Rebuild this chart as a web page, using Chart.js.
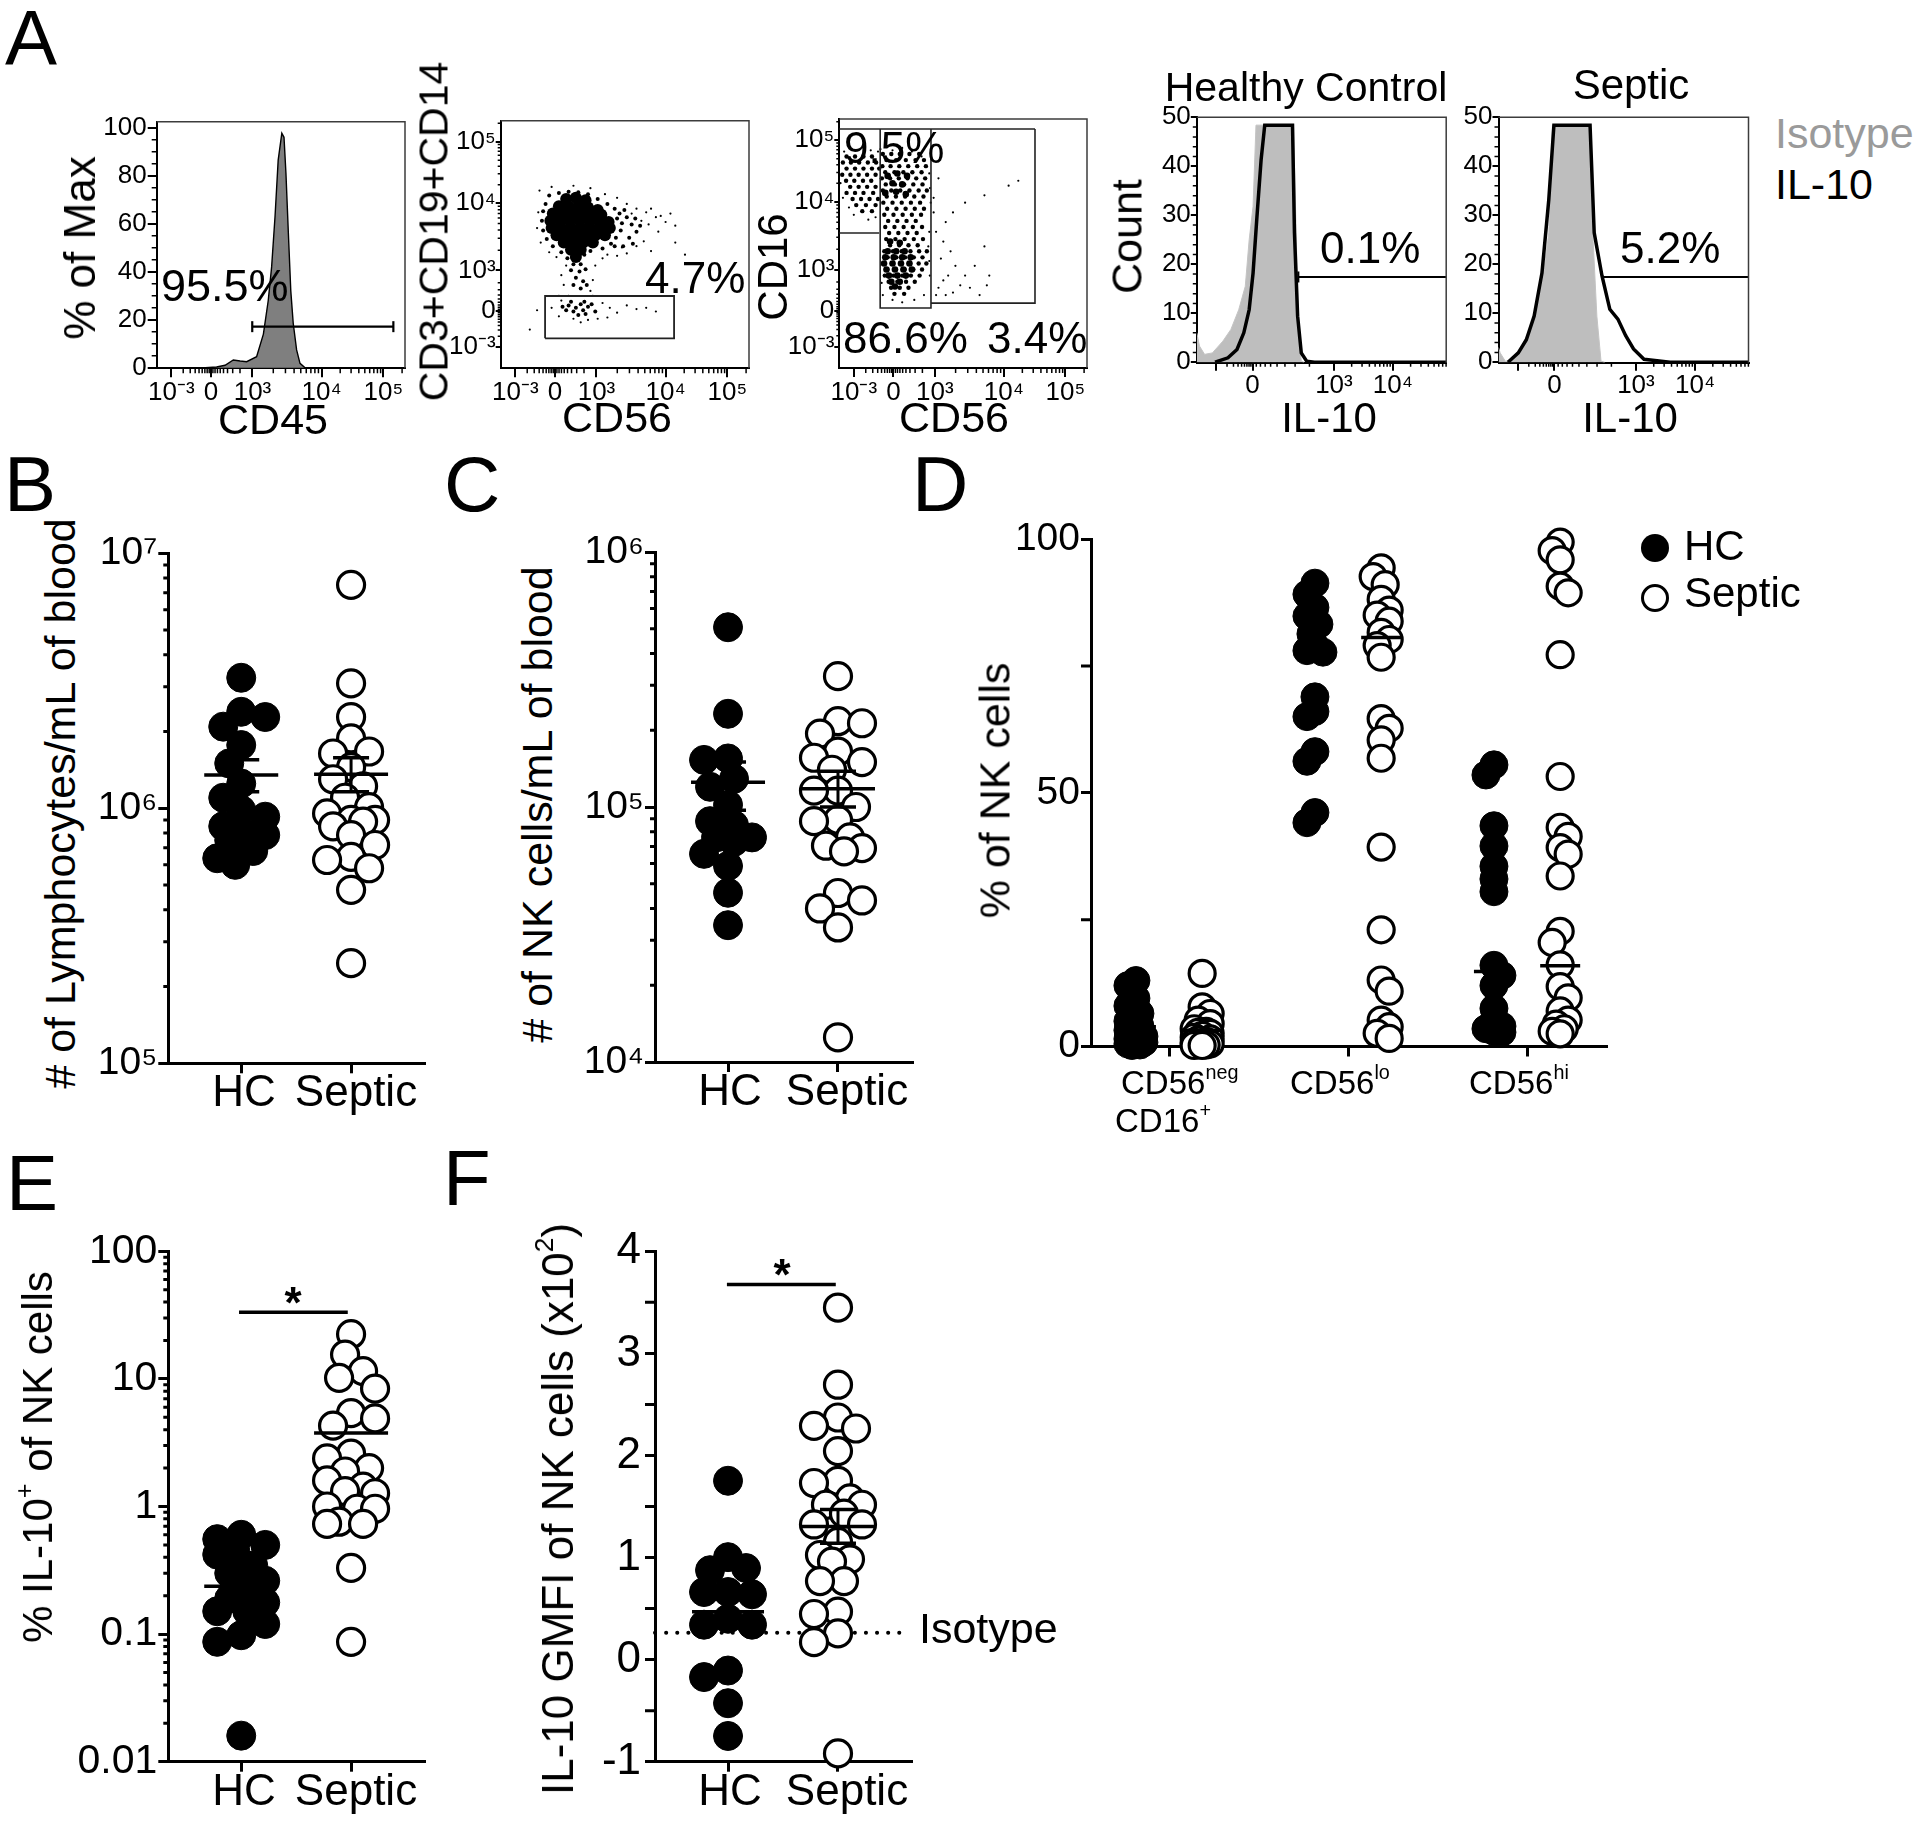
<!DOCTYPE html>
<html>
<head>
<meta charset="utf-8">
<script src="https://cdn.jsdelivr.net/npm/chart.js@4.4.1/dist/chart.umd.min.js"></script>
<style>
  html, body { margin: 0; background: #fff; }
  #page { position: relative; width: 1920px; height: 1824px; overflow: hidden;
          font-family: "Liberation Sans", Arial, Helvetica, sans-serif; color: #000; }
  #page canvas { position: absolute; }
  .t { position: absolute; white-space: nowrap; line-height: 1; }
  .t sup { font-size: 60%; vertical-align: baseline; position: relative; top: -0.75em; }
  .dot { position: absolute; border-radius: 50%; box-sizing: border-box; }
</style>
</head>
<body>
<div id="page"></div>
<script>
const FONT = '"Liberation Sans", Arial, Helvetica, sans-serif';
const page = document.getElementById('page');

// ---------------- panel A : flow data, channel units 0-1024 ----------------
const flowXTicks = [60, 224, 395, 680, 935];
const flowYTicks = [88, 236, 405, 683, 937];
const flowLabels = ['10⁻³', '0', '10³', '10⁴', '10⁵'];
const il10Ticks = [79, 229, 563, 805];
const il10Labels = ['', '0', '10³', '10⁴'];

// CD45 histogram
const cd45Channel = [200, 247, 282, 316, 344, 371, 412, 440, 460, 474, 488, 501, 516, 525, 533, 543, 553, 563, 577, 591, 612, 640];
const cd45Pct     = [0, 0.3, 1, 3.2, 2.8, 2.5, 4.6, 14, 28, 42, 63, 86.5, 97.7, 96, 81, 56, 32, 18.5, 7.4, 1.8, 0, 0];
const cd45Gate = [394, 976];
const cd45GateLevel = 17.1;

// CD56 vs CD3+CD19+CD14
const a2Core = [[270,700],[310,705],[350,695],
  [240,670],[280,670],[320,670],[360,665],[400,655],
  [215,640],[255,640],[295,640],[335,640],[375,640],[415,635],
  [205,610],[245,610],[285,610],[325,610],[365,610],[405,610],[445,605],
  [210,580],[250,580],[290,580],[330,580],[370,580],[410,580],[450,580],
  [230,550],[270,550],[310,550],[350,550],[390,550],[430,550],
  [260,520],[300,520],[340,520],[380,520],[290,490],[330,490],[310,460]];
const a2Mid = [[200,715],[240,725],[280,730],[320,728],[360,720],[400,700],[440,680],[470,660],[490,640],
  [185,680],[175,650],[170,610],[175,570],[190,535],[215,505],[480,620],[500,600],[495,570],[475,540],[455,515],
  [420,495],[520,625],[540,595],[560,565],[530,540],[250,480],[275,455],[345,470],[370,485],[300,430],
  [330,430],[290,405],[325,400],[350,410],[310,375],[340,360],[300,345],[330,330],[355,345],
  [280,260],[310,250],[330,265],[300,235],[340,240],[360,255],[320,220],[350,225],[270,240],[390,235],
  [290,275],[345,275],[375,265],[255,255],[510,655],[555,620],[575,590],[545,515],[505,505],[470,505]];
const a2Sparse = [[160,735],[210,750],[300,755],[370,745],[430,720],[480,705],[520,680],[560,660],[600,645],
  [640,625],[680,605],[720,590],[610,595],[650,565],[590,525],[560,505],[620,485],[520,475],[480,465],
  [420,455],[390,425],[270,425],[250,385],[380,365],[260,345],[370,320],[165,520],[150,580],[155,645],
  [240,300],[380,300],[250,280],[420,270],[450,250],[480,230],[520,260],[560,245],[600,250],[640,235],
  [400,205],[360,200],[300,205],[240,215],[210,250],[440,210],[330,190],[150,240],[120,160],[720,520],[760,470],
  [580,610],[620,660],[660,630],[540,640],[700,640],[500,500],[440,470],[230,460],[200,480],[280,300]];
const a2Gate = [[183,124],[715,124],[715,299],[183,299],[183,124]];

// CD56 vs CD16 : dense spots, speckle rows (y, xs), sparse events
const a3Dense = [[200,480],[235,480],[270,480],[190,455],[225,455],[260,455],[295,455],[185,430],[220,430],
  [255,430],[290,430],[195,405],[230,405],[265,405],[300,405],[205,380],[240,380],[275,380],[215,355],[250,355],
  [230,335],[210,520],[250,515],[200,790],[240,800],[280,790],[220,760],[260,755],[190,720],[235,725],[275,715]];
const a3Rows = [
  [880, [180,215,250,290,330]], [855, [195,235,275,315,350]], [830, [178,212,248,285,322,358]],
  [805, [190,228,265,302,340]], [780, [176,210,246,282,318,355]], [755, [192,230,268,306,344]],
  [730, [180,215,252,290,328,362]], [705, [196,234,272,310,348]], [680, [182,220,258,296,334]],
  [655, [198,236,274,312,350]], [630, [186,224,262,300,338]], [605, [202,240,278,316]],
  [580, [190,228,266,304,342]], [555, [206,244,282,320]], [530, [194,232,270,308,346]],
  [505, [210,248,286,324]], [480, [186,222,258,294,330,362]], [455, [200,236,272,308,344]],
  [430, [184,220,256,292,328,360]], [405, [198,234,270,306,342]], [380, [188,224,260,296,332]],
  [355, [204,240,276,312]], [330, [214,250,286]], [305, [228,268]],
  [870, [30,65,100,135]], [845, [15,48,82,118,152]], [820, [30,65,100,135,165]],
  [795, [12,46,80,115,150]], [770, [28,62,98,132]], [745, [45,80,115,150]],
  [720, [30,65,100,140]], [695, [55,90,125,160]], [670, [70,110,150]], [645, [95,135]]];
const a3Sparse = [[400,560],[430,520],[460,480],[420,450],[480,420],[520,380],[450,380],[500,340],[540,330],
  [580,300],[610,340],[410,330],[440,300],[470,310],[560,420],[600,500],[620,380],[700,750],[740,770],[600,710],
  [520,680],[440,600],[470,640],[390,700],[400,300],[430,360],[390,640],[410,780],[380,860],
  [170,900],[220,895],[260,905],[300,890],[340,870],[372,800],[375,740],[378,680],[372,560],[368,500],[372,440],
  [374,380],[350,300],[310,280],[260,270],[220,280],[180,300],[175,350],
  [20,890],[50,900],[5,760],[15,700],[40,660],[150,620],[120,610],[100,905],[130,895],[160,890],[60,630]];
const a3GateTop = [[0,983],[809,983]];
const a3GateNeg = [[0,555],[165,555]];
const a3GateLo  = [[169,983],[169,247],[379,247],[379,983]];
const a3GateHi  = [[379,267],[809,267],[809,983]];

// IL-10 histograms (channel, count)
const hcIsoCh     = [0, 11, 32, 64, 107, 140, 172, 199, 215, 231, 243, 397, 408, 418, 429, 440];
const hcIsoCount  = [6, 3.3, 1.6, 1.9, 4.3, 6.7, 10.7, 15.5, 25, 31.8, 48.4, 48.4, 26.4, 6, 0.2, 0];
const hcIl10Ch    = [75, 128, 165, 193, 215, 231, 247, 264, 279, 393, 401, 414, 429, 451, 483, 1024];
const hcIl10Count = [0, 0.9, 2.6, 6, 10.7, 18.2, 29.7, 41.3, 48.4, 48.4, 26.4, 9.4, 1.9, 0.2, 0, 0];
const sepIsoCh     = [0, 7, 28, 60, 92, 124, 157, 184, 206, 221, 375, 386, 403, 420, 435];
const sepIsoCount  = [3, 1.9, 0.2, 0.5, 2.9, 6.3, 11.4, 18.2, 26.4, 48.4, 48.4, 26.4, 9.4, 0.2, 0];
const sepIl10Ch    = [39, 81, 114, 146, 178, 206, 227, 375, 392, 424, 456, 489, 521, 553, 596, 703, 1024];
const sepIl10Count = [0, 1.9, 4.6, 9.4, 18.2, 33.2, 48.4, 48.4, 26.4, 17.6, 10.8, 8.8, 5.4, 2.7, 0.6, 0, 0];
const il10GateLevel = 17.4;
const hcGate = [417, 1024];
const sepGate = [424, 1024];

// ---------------- panels B-F ----------------
const groups = ['HC', 'Septic'];

const lymphHC = [3.25e6, 2.39e6, 2.28e6, 2.09e6, 1.77e6, 1.5e6, 1.25e6, 1.1e6, 0.985e6, 0.927e6, 0.85e6, 0.785e6, 0.785e6, 0.75e6, 0.68e6, 0.637e6, 0.6e6];
const lymphSeptic = [7.52e6, 3.09e6, 2.28e6, 1.88e6, 1.67e6, 1.64e6, 1.45e6, 1.3e6, 1.22e6, 1.1e6, 1.01e6, 0.955e6, 0.9e6, 0.9e6, 0.887e6, 0.85e6, 0.785e6, 0.718e6, 0.645e6, 0.627e6, 0.582e6, 0.479e6, 0.247e6];
const lymphMean = [1.35e6, 1.36e6];
const lymphSemLo = [1.16e6, 1.16e6];
const lymphSemHi = [1.55e6, 1.58e6];

const nkHC = [5.07e5, 2.32e5, 1.55e5, 1.53e5, 1.29e5, 1.2e5, 1.02e5, 0.88e5, 0.85e5, 0.76e5, 0.76e5, 0.73e5, 0.655e5, 0.587e5, 0.461e5, 0.344e5];
const nkSeptic = [3.26e5, 2.17e5, 2.13e5, 1.94e5, 1.65e5, 1.56e5, 1.5e5, 1.4e5, 1.16e5, 1.16e5, 1.0e5, 0.89e5, 0.88e5, 0.76e5, 0.705e5, 0.69e5, 0.67e5, 0.46e5, 0.43e5, 0.4e5, 0.337e5, 1.25e4];
const nkMean = [1.25e5, 1.18e5];
const nkSemLo = [0.97e5, 1.0e5];
const nkSemHi = [1.5e5, 1.38e5];

const subsets = ['CD56neg CD16+', 'CD56lo', 'CD56hi'];
const subsetHC = [
  [13, 12, 9.5, 8, 6.5, 5, 4, 3.2, 2.5, 2, 1.5, 1, 0.8, 0.5, 0.3, 0.2],
  [91.3, 89.1, 86.5, 84.8, 83.2, 81.3, 79.0, 78.0, 77.7, 68.9, 66.0, 65.0, 58.1, 56.2, 46.1, 44.1],
  [55.5, 53.5, 43.5, 39.5, 35.5, 33, 30.5, 16, 14, 12, 7.5, 5, 4, 3, 3.5, 2.8]];
const subsetSeptic = [
  [14.4, 7.8, 6.5, 5.2, 4.5, 3.5, 3, 2.8, 2.6, 2.2, 1.8, 1.5, 1.3, 1, 0.8, 0.6, 0.5, 0.4, 0.3, 0.2, 0.2],
  [94.3, 92.6, 91, 88.1, 86, 85, 83.8, 81.6, 80.2, 79.0, 76.7, 64.6, 62.7, 60.4, 56.8, 39.3, 23.0, 13.1, 10.9, 5.2, 3.9, 2.6, 1.6],
  [99.4, 97.7, 95.9, 90.7, 89.4, 77.2, 53.2, 43.2, 41.4, 39.2, 37.9, 33.6, 22.7, 20.5, 16.1, 11.8, 9.6, 7.0, 5.2, 4.4, 3.5, 3.0, 2.5]];
const subsetMeanHC = [3.9, 77.7, 14.8];
const subsetMeanSeptic = [3.2, 80.6, 15.9];

const il10PctHC = [0.6, 0.555, 0.5, 0.455, 0.42, 0.345, 0.3, 0.262, 0.24, 0.19, 0.177, 0.151, 0.151, 0.12, 0.098, 0.087, 0.016];
const il10PctSeptic = [22.4, 15.5, 11.5, 10.2, 8.4, 5.4, 4.9, 4.3, 2.6, 2.38, 2.0, 1.88, 1.6, 1.43, 1.32, 1.27, 1.0, 0.96, 0.96, 0.76, 0.73, 0.73, 0.33, 0.087];
const il10PctMean = [0.237, 3.76];
const il10PctSig = 33.3;

const gmfiHC = [1.752, 1.004, 0.897, 0.876, 0.662, 0.662, 0.64, 0.4, 0.342, 0.342, -0.107, -0.171, -0.427, -0.748];
const gmfiSeptic = [3.449, 2.693, 2.372, 2.29, 2.264, 2.043, 1.752, 1.73, 1.58, 1.517, 1.517, 1.43, 1.324, 1.324, 1.154, 1.025, 0.983, 0.96, 0.769, 0.769, 0.47, 0.447, 0.257, 0.171, -0.919];
const gmfiMean = [0.47, 1.304];
const gmfiSemLo = [0.33, 1.14];
const gmfiSemHi = [0.62, 1.47];
const gmfiIsotype = 0.264;
const gmfiSig = 3.675;

// ---------------- helpers ----------------
const pairs = a => a.map(([x, y]) => ({ x, y }));
const zip = (xs, ys) => xs.map((x, i) => ({ x, y: ys[i] }));
const rows = r => r.flatMap(([y, xs]) => xs.map(x => ({ x, y })));
const logMinors = (e0, e1) => { const m = []; for (let e = e0; e < e1; e++) for (let k = 2; k < 10; k++) m.push(k * Math.pow(10, e)); return m; };
const evenMinors = (a, b, st, major) => { const m = []; for (let v = a; v <= b + 1e-9; v += st) { const r = v / major; if (Math.abs(r - Math.round(r)) > 1e-6) m.push(+v.toFixed(4)); } return m; };
// 2..9 marks of one decade between channels a and b, crowding toward one end
const decade = (a, b, dense) => { const m = []; for (let k = 2; k < 10; k++) { const f = Math.log10(k); m.push(dense === 'b' ? a + (b - a) * f : b - (b - a) * f); } return m; };
const flowXMinors = [...decade(60, 224, 'b'), ...decade(224, 395, 'a'), ...decade(395, 680, 'b'), ...decade(680, 935, 'b'), 1012];
const flowYMinors = [...decade(88, 236, 'b'), ...decade(236, 405, 'a'), ...decade(405, 683, 'b'), ...decade(683, 937, 'b'), 1013];
const il10Minors = [...decade(79, 229, 'b'), ...decade(229, 563, 'a'), ...decade(563, 805, 'b'), ...decade(805, 1047, 'b').filter(v => v < 1024)];

// short minor tick marks + top/right frame for the flow plots
const minorTicks = {
  id: 'minorTicks',
  afterDraw(chart) {
    const list = chart.canvas.minor || [];
    const { ctx, chartArea: a } = chart;
    list.forEach(m => {
      const s = chart.scales[m.axis];
      ctx.save();
      ctx.strokeStyle = '#000';
      ctx.lineWidth = m.width;
      ctx.beginPath();
      m.values.forEach(v => {
        const p = s.getPixelForValue(v);
        if (s.isHorizontal()) { ctx.moveTo(p, a.bottom); ctx.lineTo(p, a.bottom + m.len); }
        else { ctx.moveTo(a.left - m.len, p); ctx.lineTo(a.left, p); }
      });
      ctx.stroke();
      ctx.restore();
    });
    if (chart.canvas.frame) {
      ctx.save();
      ctx.strokeStyle = '#3c3c3c';
      ctx.lineWidth = 1.5;
      ctx.beginPath();
      ctx.moveTo(a.left, a.top); ctx.lineTo(a.right, a.top); ctx.lineTo(a.right, a.bottom);
      ctx.stroke();
      ctx.restore();
    }
  }
};
Chart.register(minorTicks);

function axis(o) {
  return {
    type: o.type || 'linear', min: o.min, max: o.max,
    afterBuildTicks: s => { s.ticks = o.ticks.map(v => ({ value: v })); },
    ticks: {
      autoSkip: false, maxRotation: 0, minRotation: 0, padding: o.pad, color: '#000',
      font: { family: FONT, size: o.font },
      callback: (v, i) => o.labels[i]
    },
    grid: { drawOnChartArea: false, drawTicks: true, tickLength: o.tick, tickWidth: o.lw, lineWidth: o.lw, tickColor: '#000', color: '#000' },
    border: { display: true, color: '#000', width: o.lw }
  };
}

// one canvas per plot, plot area pinned to page pixels
// (keep >= 42px of canvas beyond the plot area on top and right: the long mean-bar
//  markers make Chart.js reserve that much room around the plot area)
function place(box, area, cfg, minor, frame) {
  const cv = document.createElement('canvas');
  cv.width = box.w; cv.height = box.h;
  cv.style.left = box.x + 'px'; cv.style.top = box.y + 'px';
  cv.style.width = box.w + 'px'; cv.style.height = box.h + 'px';
  cv.minor = minor || [];
  cv.frame = !!frame;
  page.appendChild(cv);
  const o = cfg.options;
  o.responsive = false; o.animation = false; o.events = []; o.devicePixelRatio = 1;
  o.layout = { padding: { left: 0, bottom: 0, top: area.t - box.y, right: box.x + box.w - area.r } };
  const zero = s => { s.paddingLeft = 0; s.paddingRight = 0; s.paddingTop = 0; s.paddingBottom = 0; };
  o.scales.x.afterFit = s => { s.height = box.y + box.h - area.b; zero(s); };
  o.scales.y.afterFit = s => { s.width = area.l - box.x; zero(s); };
  o.plugins = { legend: { display: false }, tooltip: { enabled: false } };
  return new Chart(cv, cfg);
}

function txt(html, x, y, size, opt = {}) {
  const d = document.createElement('div');
  d.className = 't';
  d.innerHTML = html;
  d.style.fontSize = size + 'px';
  if (opt.color) d.style.color = opt.color;
  if (opt.bold) d.style.fontWeight = 'bold';
  d.style.left = x + 'px';
  if (opt.rot) {
    d.style.top = (y - size / 2) + 'px';
    d.style.transform = 'translateX(-50%) rotate(-90deg)';
  } else {
    d.style.top = (y - 0.8465 * size) + 'px';
    if (opt.center) d.style.transform = 'translateX(-50%)';
  }
  page.appendChild(d);
}

function dot(cx, cy, r, filled) {
  const d = document.createElement('div');
  d.className = 'dot';
  d.style.left = (cx - r) + 'px'; d.style.top = (cy - r) + 'px';
  d.style.width = 2 * r + 'px'; d.style.height = 2 * r + 'px';
  d.style.background = filled ? '#000' : '#fff';
  d.style.border = filled ? 'none' : '3px solid #000';
  page.appendChild(d);
}

// spread a column of points sideways like a scatter dot plot
function swarm(chart, specs) {
  const xs = chart.scales.x, ys = chart.scales.y;
  specs.forEach(sp => {
    const pts = chart.data.datasets[sp.ds].data;
    const cx = xs.getPixelForValue(sp.at);
    const placed = [];
    const idx = pts.map((p, i) => i).sort((a, b) => pts[b].y - pts[a].y);
    idx.forEach((i, n) => {
      const py = ys.getPixelForValue(pts[i].y);
      const dir = n % 2 ? -1 : 1;
      let best = 0, bestD = -1;
      for (let k = 0; k * sp.step <= sp.max; k++) {
        const offs = k === 0 ? [0] : [dir * k * sp.step, -dir * k * sp.step];
        for (const off of offs) {
          let d = Infinity;
          placed.forEach(q => { d = Math.min(d, Math.hypot(q[0] - cx - off, q[1] - py)); });
          if (d > bestD) { bestD = d; best = off; }
          if (d >= sp.gap) break;
        }
        if (bestD >= sp.gap) break;
      }
      placed.push([cx + best, py]);
      pts[i].x = xs.getValueForPixel(cx + best);
    });
  });
  chart.update('none');
}

const line = (data, w, extra = {}) => Object.assign({ data, showLine: true, borderColor: '#000', borderWidth: w, pointRadius: 0, clip: false, order: 1 }, extra);
const cloud = (data, r) => ({ data, pointRadius: r, pointBackgroundColor: '#000', pointBorderWidth: 0, order: 2 });
const column = (vals, x, filled, r) => ({
  data: vals.map(v => ({ x, y: v })), pointRadius: filled ? r : r - 1,
  pointBackgroundColor: filled ? '#000' : '#fff', pointBorderColor: '#000',
  pointBorderWidth: filled ? 1 : 3.2, clip: false, order: 2
});
const bars = (vals, xs, r, w) => ({
  data: vals.map((v, i) => ({ x: xs[i], y: v })), pointStyle: 'line', pointRadius: r,
  pointBorderWidth: w, pointBorderColor: '#000', clip: false, order: 0
});
const errs = (lo, hi) => lo.map((v, i) => line([{ x: i + 1, y: v }, { x: i + 1, y: hi[i] }], 3, { order: 0 }));

const flowX = () => axis({ min: 0, max: 1024, ticks: flowXTicks, labels: flowLabels, font: 26, tick: 9, lw: 2, pad: 0 });
const flowY = () => axis({ min: 0, max: 1024, ticks: flowYTicks, labels: flowLabels, font: 26, tick: 5, lw: 2, pad: 0 });
const flowMinors = [{ axis: 'x', values: flowXMinors, len: 5, width: 1.5 }, { axis: 'y', values: flowYMinors, len: 3, width: 1.5 }];

// ---------------- A1 : CD45 ----------------
place({ x: 95, y: 100, w: 330, h: 310 }, { l: 156.7, t: 121.7, r: 405, b: 368.3 }, {
  type: 'scatter',
  data: { datasets: [
    line(zip(cd45Channel, cd45Pct), 1.4, { fill: 'origin', backgroundColor: '#7f7f7f', order: 2, clip: true }),
    line(cd45Gate.map(x => ({ x, y: cd45GateLevel })), 2.2, { pointStyle: 'line', pointRotation: 90, pointRadius: 5.5, pointBorderWidth: 2.2, pointBorderColor: '#000' })
  ] },
  options: { scales: {
    x: flowX(),
    y: axis({ min: -0.25, max: 102.5, ticks: [0, 20, 40, 60, 80, 100], labels: ['0', '20', '40', '60', '80', '100'], font: 26, tick: 9, lw: 2, pad: 1 })
  } }
}, [{ axis: 'x', values: flowXMinors, len: 5, width: 1.5 }, { axis: 'y', values: evenMinors(0, 100, 5, 20), len: 5, width: 1.5 }], true);

// ---------------- A2 : CD56 vs lineage ----------------
place({ x: 440, y: 100, w: 325, h: 310 }, { l: 500.7, t: 120.7, r: 749, b: 368.3 }, {
  type: 'scatter',
  data: { datasets: [
    cloud(pairs(a2Core), 6), cloud(pairs(a2Mid), 2), cloud(pairs(a2Sparse), 1.1),
    line(pairs(a2Gate), 1.8, { borderColor: '#222' })
  ] },
  options: { scales: { x: flowX(), y: flowY() } }
}, flowMinors, true);

// ---------------- A3 : CD56 vs CD16 ----------------
place({ x: 780, y: 100, w: 325, h: 310 }, { l: 839.3, t: 119, r: 1087, b: 368 }, {
  type: 'scatter',
  data: { datasets: [
    cloud(pairs(a3Dense), 3.3), cloud(rows(a3Rows), 2.2), cloud(pairs(a3Sparse), 1.1),
    line(pairs(a3GateTop), 1.6, { borderColor: '#222' }),
    line(pairs(a3GateNeg), 1.6, { borderColor: '#222' }),
    line(pairs(a3GateLo), 1.6, { borderColor: '#222' }),
    line(pairs(a3GateHi), 1.6, { borderColor: '#222' })
  ] },
  options: { scales: { x: flowX(), y: flowY() } }
}, flowMinors, true);

// ---------------- A4 / A5 : IL-10 histograms ----------------
function il10Hist(box, area, isoCh, isoCount, ilCh, ilCount, gate, cap) {
  place(box, area, {
    type: 'scatter',
    data: { datasets: [
      line(zip(isoCh, isoCount), 1, { fill: 'origin', backgroundColor: '#bebebe', borderColor: '#c4c4c4', order: 3, clip: true }),
      line(zip(ilCh, ilCount), 3.5, { order: 2, clip: true }),
      line(gate.map(x => ({ x, y: il10GateLevel })), 2, { pointStyle: 'line', pointRotation: 90, pointBorderWidth: 2, pointBorderColor: '#000',
        pointRadius: c => (cap && c.dataIndex === 0 ? 5.5 : 0) })
    ] },
    options: { scales: {
      x: axis({ min: 0, max: 1024, ticks: il10Ticks, labels: il10Labels, font: 26, tick: 8, lw: 2, pad: 0 }),
      y: axis({ min: -0.1, max: 50, ticks: [0, 10, 20, 30, 40, 50], labels: ['0', '10', '20', '30', '40', '50'], font: 26, tick: 6, lw: 2, pad: 0 })
    } }
  }, [{ axis: 'x', values: il10Minors, len: 4, width: 1.5 }, { axis: 'y', values: evenMinors(0, 50, 2, 10), len: 4, width: 1.5 }], true);
}
il10Hist({ x: 1150, y: 100, w: 310, h: 310 }, { l: 1196.8, t: 117.3, r: 1446.2, b: 362.7 }, hcIsoCh, hcIsoCount, hcIl10Ch, hcIl10Count, hcGate, true);
il10Hist({ x: 1455, y: 100, w: 310, h: 310 }, { l: 1498.5, t: 117.3, r: 1748.5, b: 362.7 }, sepIsoCh, sepIsoCount, sepIl10Ch, sepIl10Count, sepGate, false);

// ---------------- B-F dot plots (group names are set as page text below) ----------------
const groupX = max => axis({ min: 0.336, max, ticks: [1, 2], labels: ['', ''], font: 20, tick: 10, lw: 3, pad: 0 });
const swarmSpec = [{ ds: 0, at: 1, gap: 21, step: 6, max: 27 }, { ds: 1, at: 2, gap: 21, step: 6, max: 27 }];

// B
let ch = place({ x: 85, y: 506, w: 384, h: 619 }, { l: 168.3, t: 553.3, r: 424, b: 1063.3 }, {
  type: 'scatter',
  data: { datasets: [
    column(lymphHC, 1, true, 14.5), column(lymphSeptic, 2, false, 14.5),
    bars(lymphMean, [1, 2], 37, 3.5), bars(lymphSemLo, [1, 2], 18, 3.5), bars(lymphSemHi, [1, 2], 18, 3.5),
    ...errs(lymphSemLo, lymphSemHi)
  ] },
  options: { scales: {
    x: groupX(2.664),
    y: axis({ type: 'logarithmic', min: 1e5, max: 1e7, ticks: [1e5, 1e6, 1e7], labels: ['10⁵', '10⁶', '10⁷'], font: 39, tick: 10, lw: 3, pad: 1 })
  } }
}, [{ axis: 'y', values: logMinors(5, 7), len: 5, width: 3 }]);
swarm(ch, swarmSpec);

// C
ch = place({ x: 570, y: 505, w: 387, h: 620 }, { l: 655, t: 552, r: 912, b: 1062 }, {
  type: 'scatter',
  data: { datasets: [
    column(nkHC, 1, true, 14.5), column(nkSeptic, 2, false, 14.5),
    bars(nkMean, [1, 2], 37, 3.5), bars(nkSemLo, [1, 2], 18, 3.5), bars(nkSemHi, [1, 2], 18, 3.5),
    ...errs(nkSemLo, nkSemHi)
  ] },
  options: { scales: {
    x: groupX(2.673),
    y: axis({ type: 'logarithmic', min: 1e4, max: 1e6, ticks: [1e4, 1e5, 1e6], labels: ['10⁴', '10⁵', '10⁶'], font: 39, tick: 10, lw: 3, pad: 1 })
  } }
}, [{ axis: 'y', values: logMinors(4, 6), len: 5, width: 3 }]);
swarm(ch, swarmSpec);

// D
const dSets = [];
subsets.forEach((s, i) => {
  dSets.push(column(subsetHC[i], i + 1 - 0.19, true, 14));
  dSets.push(column(subsetSeptic[i], i + 1 + 0.18, false, 14));
});
ch = place({ x: 1000, y: 495, w: 650, h: 575 }, { l: 1091, t: 539, r: 1606, b: 1051 }, {
  type: 'scatter',
  data: { datasets: [
    ...dSets,
    bars(subsetMeanHC, [0.81, 1.81, 2.81], 20, 3.5),
    bars(subsetMeanSeptic, [1.18, 2.18, 3.18], 20, 3.5)
  ] },
  options: { scales: {
    x: axis({ min: 0.559, max: 3.436, ticks: [1, 2, 3], labels: ['', '', ''], font: 20, tick: 10, lw: 3, pad: 0 }),
    y: axis({ min: 0, max: 100, ticks: [0, 50, 100], labels: ['0', '50', '100'], font: 39, tick: 10, lw: 3, pad: 1 })
  } }
}, [{ axis: 'y', values: [25, 75], len: 10, width: 3 }]);
swarm(ch, subsets.flatMap((s, i) => [
  { ds: 2 * i, at: i + 1 - 0.19, gap: 12, step: 4, max: 10 },
  { ds: 2 * i + 1, at: i + 1 + 0.18, gap: 12, step: 4, max: 10 }
]));

// E
ch = place({ x: 60, y: 1205, w: 409, h: 619 }, { l: 168.3, t: 1251.3, r: 424, b: 1761.7 }, {
  type: 'scatter',
  data: { datasets: [
    column(il10PctHC, 1, true, 14.5), column(il10PctSeptic, 2, false, 14.5),
    bars(il10PctMean, [1, 2], 37, 3.5),
    line([{ x: 0.98, y: il10PctSig }, { x: 1.97, y: il10PctSig }], 3.5, { order: 0 })
  ] },
  options: { scales: {
    x: groupX(2.664),
    y: axis({ type: 'logarithmic', min: 0.01, max: 100, ticks: [0.01, 0.1, 1, 10, 100], labels: ['0.01', '0.1', '1', '10', '100'], font: 41, tick: 10, lw: 3, pad: 1 })
  } }
}, [{ axis: 'y', values: logMinors(-2, 2), len: 5, width: 3 }]);
swarm(ch, swarmSpec);

// F
ch = place({ x: 555, y: 1205, w: 401, h: 619 }, { l: 655, t: 1251.3, r: 911, b: 1761.7 }, {
  type: 'scatter',
  data: { datasets: [
    column(gmfiHC, 1, true, 14.5), column(gmfiSeptic, 2, false, 14.5),
    bars(gmfiMean, [1, 2], 36, 3.5), bars(gmfiSemLo, [1, 2], 18, 3.5), bars(gmfiSemHi, [1, 2], 18, 3.5),
    ...errs(gmfiSemLo, gmfiSemHi),
    line([{ x: 0.99, y: gmfiSig }, { x: 1.98, y: gmfiSig }], 3.5, { order: 0 }),
    line([{ x: 0.336, y: gmfiIsotype }, { x: 2.573, y: gmfiIsotype }], 4, { borderDash: [0.1, 11], borderCapStyle: 'round', order: 3 })
  ] },
  options: { scales: {
    x: groupX(2.664),
    y: axis({ min: -1, max: 4, ticks: [-1, 0, 1, 2, 3, 4], labels: ['-1', '0', '1', '2', '3', '4'], font: 44, tick: 10, lw: 3, pad: 4 })
  } }
}, [{ axis: 'y', values: [-0.5, 0.5, 1.5, 2.5, 3.5], len: 10, width: 3 }]);
swarm(ch, swarmSpec);

// ---------------- text ----------------
[['A', 5, 65], ['B', 4, 511], ['C', 444, 511], ['D', 912, 511], ['E', 6, 1210], ['F', 443, 1205]]
  .forEach(([s, x, y]) => txt(s, x, y, 78));

// panel A
txt('% of Max', 80, 248, 44, { rot: true });
txt('CD45', 273, 434, 43, { center: true });
txt('95.5%', 161, 301, 45);
txt('CD3+CD19+CD14', 434, 231, 41, { rot: true });
txt('CD56', 617, 432, 43, { center: true });
txt('4.7%', 645, 293, 44);
txt('CD16', 773, 267, 42, { rot: true });
txt('CD56', 954, 432, 43, { center: true });
txt('9.5%', 844, 163, 44);
txt('86.6%', 843, 353, 44);
txt('3.4%', 987, 353, 44);
txt('Healthy Control', 1306, 102, 41, { center: true });
txt('Septic', 1631, 100, 42, { center: true });
txt('Count', 1127, 236, 43, { rot: true });
txt('0.1%', 1320, 263, 44);
txt('5.2%', 1620, 263, 44);
txt('IL-10', 1329, 433, 42, { center: true });
txt('IL-10', 1630, 433, 42, { center: true });
txt('Isotype', 1775, 148, 43, { color: '#9a9a9a' });
txt('IL-10', 1775, 199, 43);

// group names under B, C, E, F
[[244, 356, 1106], [730, 847, 1105], [244, 356, 1805], [730, 847, 1805]].forEach(([hx, sx, y]) => {
  txt(groups[0], hx, y, 44, { center: true });
  txt(groups[1], sx, y, 44, { center: true });
});

// panels B-F titles
txt('# of Lymphocytes/mL of blood', 60, 803, 43, { rot: true });
txt('# of NK cells/mL of blood', 537, 804, 43, { rot: true });
txt('% of NK cells', 995, 790, 43, { rot: true });
txt('CD56<sup>neg</sup>', 1121, 1094, 33);
txt('CD16<sup>+</sup>', 1115, 1132, 33);
txt('CD56<sup>lo</sup>', 1290, 1094, 33);
txt('CD56<sup>hi</sup>', 1469, 1094, 33);
dot(1655, 548, 14, true);
dot(1655, 598, 14, false);
txt('HC', 1684, 561, 42);
txt('Septic', 1684, 608, 42);
txt('% IL-10<sup>+</sup> of NK cells', 38, 1457, 42, { rot: true });
txt('*', 293, 1318, 44, { center: true, bold: true });
txt('IL-10 GMFI of NK cells (x10<sup>2</sup>)', 558, 1509, 44, { rot: true });
txt('*', 782, 1290, 44, { center: true, bold: true });
txt('Isotype', 919, 1643, 43);
</script>
</body>
</html>
